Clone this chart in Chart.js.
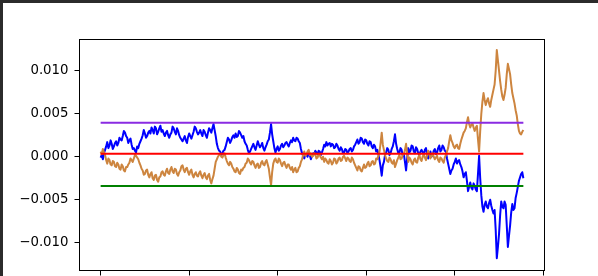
<!DOCTYPE html>
<html>
<head>
<meta charset="utf-8">
<script src="https://cdn.jsdelivr.net/npm/chart.js@4"></script>
<style>
    html, body { margin: 0; padding: 0; background: #2b2b2b; }
    #wrap { position: absolute; left: 3px; top: 3px; width: 595px; height: 273px; background: #fff; }
    canvas { display: block; }
</style>
</head>
<body>
<div id="wrap"><canvas id="spread" width="595" height="273"></canvas></div>
<script>
/* ════════════════════════════════════════════════════════
   Spread chart — two mirrored series + band levels
   ════════════════════════════════════════════════════════ */
const xTicks = [0, 80, 160, 240, 320, 400];
const yTicks = [-0.01, -0.005, 0, 0.005, 0.01];

const blueSeries = [
    -0.0001, 0.0002, -0.0003, 0.0004, 0.0008, 0.0012, 0.0017, 0.0010, 0.0013, 0.0019, 0.0015, 0.0009, 0.0012, 0.0016, 0.0018, 0.0013, 0.0016, 0.0022, 0.0020, 0.0019,
    0.0024, 0.0030, 0.0028, 0.0024, 0.0022, 0.0016, 0.0019, 0.0021, 0.0014, 0.0009, 0.0010, 0.0007, 0.0005, 0.0012, 0.0010, 0.0015, 0.0018, 0.0021, 0.0025, 0.0031,
    0.0027, 0.0022, 0.0024, 0.0028, 0.0030, 0.0027, 0.0034, 0.0031, 0.0027, 0.0035, 0.0033, 0.0026, 0.0029, 0.0033, 0.0036, 0.0029, 0.0031, 0.0027, 0.0024, 0.0028,
    0.0030, 0.0025, 0.0022, 0.0026, 0.0028, 0.0035, 0.0033, 0.0029, 0.0026, 0.0033, 0.0030, 0.0025, 0.0022, 0.0020, 0.0018, 0.0021, 0.0024, 0.0019, 0.0016, 0.0023,
    0.0027, 0.0024, 0.0021, 0.0025, 0.0029, 0.0035, 0.0033, 0.0029, 0.0026, 0.0028, 0.0031, 0.0027, 0.0024, 0.0031, 0.0029, 0.0025, 0.0022, 0.0028, 0.0033, 0.0031,
    0.0028, 0.0033, 0.0038, 0.0031, 0.0024, 0.0015, 0.0010, 0.0007, 0.0006, 0.0002, 0.0004, 0.0007, 0.0008, 0.0012, 0.0017, 0.0022, 0.0020, 0.0016, 0.0019, 0.0023,
    0.0025, 0.0022, 0.0027, 0.0023, 0.0024, 0.0030, 0.0028, 0.0025, 0.0022, 0.0024, 0.0018, 0.0015, 0.0013, 0.0008, 0.0004, 0.0006, 0.0009, 0.0012, 0.0015, 0.0011,
    0.0008, 0.0013, 0.0018, 0.0014, 0.0011, 0.0013, 0.0016, 0.0010, 0.0007, 0.0011, 0.0014, 0.0018, 0.0020, 0.0028, 0.0038, 0.0026, 0.0018, 0.0010, 0.0005, 0.0009,
    0.0012, 0.0007, 0.0009, 0.0013, 0.0015, 0.0011, 0.0013, 0.0016, 0.0017, 0.0014, 0.0012, 0.0016, 0.0019, 0.0017, 0.0022, 0.0019, 0.0018, 0.0022, 0.0021, 0.0018,
    0.0016, 0.0009, 0.0004, 0.0001, -0.0002, 0.0003, 0.0002, 0.0000, 0.0006, 0.0002, -0.0003, 0.0001, 0.0004, 0.0003, 0.0007, 0.0005, 0.0003, 0.0007, 0.0006, 0.0002,
    0.0005, 0.0009, 0.0014, 0.0012, 0.0017, 0.0013, 0.0015, 0.0016, 0.0012, 0.0015, 0.0014, 0.0010, 0.0011, 0.0015, 0.0013, 0.0009, 0.0007, 0.0011, 0.0009, 0.0004,
    0.0005, 0.0009, 0.0008, 0.0004, 0.0006, 0.0009, 0.0010, 0.0006, 0.0008, 0.0012, 0.0014, 0.0017, 0.0020, 0.0015, 0.0017, 0.0022, 0.0021, 0.0017, 0.0015, 0.0020,
    0.0019, 0.0015, 0.0013, 0.0018, 0.0017, 0.0012, 0.0010, 0.0014, 0.0012, 0.0006, 0.0008, 0.0003, -0.0004, -0.0012, -0.0022, -0.0010, -0.0006, 0.0002, 0.0005, 0.0010,
    0.0008, 0.0002, 0.0004, 0.0009, 0.0012, 0.0018, 0.0026, 0.0015, 0.0009, 0.0004, 0.0005, 0.0010, 0.0008, 0.0001, 0.0003, -0.0006, -0.0016, -0.0002, 0.0010, 0.0005,
    0.0007, 0.0013, 0.0012, 0.0006, 0.0004, 0.0011, 0.0009, 0.0004, 0.0002, 0.0006, 0.0008, 0.0005, 0.0003, 0.0008, 0.0010, 0.0003, -0.0002, 0.0002, 0.0006, 0.0000,
    0.0002, 0.0007, 0.0009, 0.0003, 0.0005, 0.0010, 0.0013, 0.0006, 0.0008, 0.0013, 0.0011, 0.0007, 0.0006, -0.0002, -0.0008, -0.0014, -0.0020, -0.0016, -0.0014, -0.0009,
    -0.0006, -0.0002, -0.0008, -0.0005, -0.0004, -0.0009, -0.0012, -0.0017, -0.0024, -0.0020, -0.0018, -0.0028, -0.0040, -0.0035, -0.0030, -0.0036, -0.0038, -0.0031, -0.0034, -0.0038,
    -0.0040, -0.0020, 0.0001, -0.0025, -0.0045, -0.0058, -0.0064, -0.0056, -0.0052, -0.0058, -0.0060, -0.0054, -0.0050, -0.0057, -0.0062, -0.0066, -0.0062, -0.0085, -0.0118, -0.0105,
    -0.0090, -0.0068, -0.0052, -0.0058, -0.0060, -0.0052, -0.0056, -0.0080, -0.0105, -0.0092, -0.0080, -0.0065, -0.0055, -0.0062, -0.0060, -0.0048, -0.0042, -0.0035, -0.0028, -0.0024,
    -0.0020, -0.0018, -0.0025
];

const orangeSeries = [
    0.0006, 0.0003, 0.0009, 0.0005, 0.0002, -0.0004, -0.0008, -0.0002, -0.0004, -0.0009, -0.0010, -0.0005, -0.0006, -0.0011, -0.0012, -0.0007, -0.0009, -0.0014, -0.0015, -0.0009,
    -0.0011, -0.0016, -0.0017, -0.0012, -0.0012, -0.0009, -0.0007, -0.0002, -0.0004, -0.0006, -0.0002, 0.0002, 0.0001, -0.0001, -0.0003, -0.0007, -0.0010, -0.0014, -0.0016, -0.0021,
    -0.0020, -0.0016, -0.0015, -0.0021, -0.0024, -0.0020, -0.0018, -0.0025, -0.0027, -0.0022, -0.0021, -0.0027, -0.0029, -0.0024, -0.0023, -0.0018, -0.0017, -0.0021, -0.0022, -0.0017,
    -0.0014, -0.0019, -0.0020, -0.0015, -0.0012, -0.0017, -0.0019, -0.0014, -0.0015, -0.0020, -0.0022, -0.0018, -0.0016, -0.0011, -0.0010, -0.0015, -0.0018, -0.0014, -0.0013, -0.0018,
    -0.0021, -0.0017, -0.0015, -0.0021, -0.0024, -0.0020, -0.0018, -0.0022, -0.0023, -0.0019, -0.0017, -0.0022, -0.0025, -0.0021, -0.0019, -0.0024, -0.0026, -0.0022, -0.0020, -0.0027,
    -0.0031, -0.0026, -0.0022, -0.0014, -0.0006, -0.0003, 0.0000, 0.0002, 0.0003, 0.0000, -0.0001, 0.0002, 0.0004, -0.0001, -0.0005, -0.0008, -0.0010, -0.0006, -0.0008, -0.0012,
    -0.0014, -0.0017, -0.0018, -0.0013, -0.0015, -0.0019, -0.0020, -0.0015, -0.0016, -0.0013, -0.0012, -0.0008, -0.0007, -0.0002, -0.0004, -0.0007, -0.0009, -0.0005, -0.0006, -0.0010,
    -0.0013, -0.0009, -0.0008, -0.0013, -0.0012, -0.0007, -0.0005, -0.0009, -0.0010, -0.0006, -0.0004, -0.0009, -0.0014, -0.0024, -0.0033, -0.0018, -0.0008, -0.0004, -0.0002, -0.0006,
    -0.0007, -0.0002, -0.0004, -0.0008, -0.0011, -0.0007, -0.0006, -0.0010, -0.0013, -0.0009, -0.0009, -0.0013, -0.0015, -0.0012, -0.0018, -0.0015, -0.0013, -0.0018, -0.0017, -0.0013,
    -0.0011, -0.0006, -0.0003, 0.0002, 0.0006, 0.0001, 0.0003, 0.0006, 0.0008, 0.0002, 0.0004, 0.0000, 0.0001, 0.0004, 0.0003, -0.0002, -0.0001, 0.0003, 0.0002, -0.0001,
    -0.0003, 0.0000, -0.0006, -0.0002, -0.0004, -0.0007, -0.0008, -0.0003, -0.0005, -0.0009, -0.0007, -0.0002, -0.0003, -0.0008, -0.0006, -0.0002, -0.0001, -0.0005, -0.0004, 0.0000,
    0.0001, -0.0002, -0.0005, -0.0001, -0.0002, -0.0005, -0.0006, -0.0001, -0.0003, -0.0007, -0.0010, -0.0013, -0.0016, -0.0011, -0.0012, -0.0016, -0.0017, -0.0013, -0.0009, -0.0013,
    -0.0012, -0.0008, -0.0006, -0.0011, -0.0010, -0.0006, -0.0005, -0.0009, -0.0008, -0.0002, -0.0003, 0.0001, 0.0006, 0.0016, 0.0028, 0.0014, 0.0008, 0.0002, -0.0002, -0.0005,
    -0.0006, -0.0001, -0.0003, -0.0007, -0.0008, -0.0004, -0.0012, -0.0008, -0.0004, -0.0001, 0.0002, -0.0003, -0.0002, 0.0002, 0.0003, 0.0008, 0.0015, 0.0003, -0.0006, -0.0001,
    -0.0003, -0.0007, -0.0009, -0.0004, -0.0002, -0.0006, -0.0007, -0.0001, 0.0002, -0.0003, -0.0005, 0.0000, 0.0003, -0.0001, -0.0004, 0.0002, 0.0007, 0.0003, -0.0002, 0.0001,
    0.0004, 0.0000, -0.0003, -0.0001, 0.0001, -0.0004, -0.0006, -0.0001, -0.0002, -0.0005, -0.0007, -0.0001, 0.0002, 0.0006, 0.0010, 0.0018, 0.0025, 0.0019, 0.0016, 0.0012,
    0.0010, 0.0013, 0.0014, 0.0010, 0.0009, 0.0015, 0.0020, 0.0024, 0.0028, 0.0030, 0.0033, 0.0040, 0.0046, 0.0038, 0.0034, 0.0037, 0.0039, 0.0034, 0.0030, 0.0034,
    0.0036, 0.0020, 0.0006, 0.0030, 0.0050, 0.0064, 0.0074, 0.0066, 0.0060, 0.0065, 0.0068, 0.0062, 0.0058, 0.0066, 0.0072, 0.0078, 0.0084, 0.0100, 0.0124, 0.0112,
    0.0100, 0.0088, 0.0078, 0.0070, 0.0066, 0.0072, 0.0080, 0.0096, 0.0108, 0.0102, 0.0096, 0.0084, 0.0074, 0.0068, 0.0062, 0.0054, 0.0048, 0.0038, 0.0030, 0.0027,
    0.0026, 0.0029, 0.0031
];

// horizontal reference levels: upper band, mean, lower band
const levelValues = [0.00395, 0.00035, -0.0034];
const levelColors = ['#8a2be2', '#ff0000', '#008000'];

const lastIdx = blueSeries.length - 1;
const minus = v => (v < 0 ? '\u2212' : '') + Math.abs(v).toFixed(3);

// matplotlib-style box around the plot area
const frame = {
    id: 'frame',
    afterDatasetsDraw(chart) {
        const { ctx, chartArea: a } = chart;
        ctx.save();
        ctx.strokeStyle = '#000';
        ctx.lineWidth = 1;
        ctx.strokeRect(a.left, a.top, a.right - a.left, a.bottom - a.top);
        ctx.restore();
    }
};

const lineStyle = { pointRadius: 0, borderWidth: 2, tension: 0, borderJoinStyle: 'round', fill: false };

const datasets = [
    { ...lineStyle, data: blueSeries, borderColor: '#0000ff', order: 5 },
    { ...lineStyle, data: orangeSeries, borderColor: '#cd853f', order: 4 },
    ...levelValues.map((lv, k) => ({
        ...lineStyle,
        data: [{ x: 0, y: lv }, { x: lastIdx, y: lv }],
        borderColor: levelColors[k],
        order: 3 - k
    }))
];

const tickFont = { family: 'DejaVu Sans', size: 13.3 };
const noPad = s => { s.paddingTop = 0; s.paddingBottom = 0; s.paddingLeft = 0; s.paddingRight = 0; };

new Chart(document.getElementById('spread'), {
    type: 'line',
    data: { labels: blueSeries.map((_, i) => i), datasets },
    options: {
        responsive: false,
        animation: false,
        events: [],
        layout: { padding: { top: 36.5, right: 53.5, left: 0, bottom: 0 } },
        plugins: { legend: { display: false }, tooltip: { enabled: false } },
        scales: {
            x: {
                type: 'linear',
                min: -0.05 * lastIdx,
                max: lastIdx * 1.05,
                afterBuildTicks: s => { s.ticks = xTicks.map(v => ({ value: v })); },
                afterFit: s => { s.height = 5.5; noPad(s); },
                ticks: { display: false },
                border: { display: false },
                grid: { drawOnChartArea: false, drawTicks: true, tickLength: 5, color: '#000', lineWidth: 1 }
            },
            y: {
                type: 'linear',
                min: -0.01323,
                max: 0.01363,
                afterBuildTicks: s => { s.ticks = yTicks.map(v => ({ value: v })); },
                afterFit: s => { s.width = 76.5; noPad(s); },
                ticks: { color: '#000', padding: 6, font: tickFont, callback: v => minus(v) },
                border: { display: false },
                grid: { drawOnChartArea: false, drawTicks: true, tickLength: 5, color: '#000', lineWidth: 1 }
            }
        }
    },
    plugins: [frame]
});
</script>
</body>
</html>
